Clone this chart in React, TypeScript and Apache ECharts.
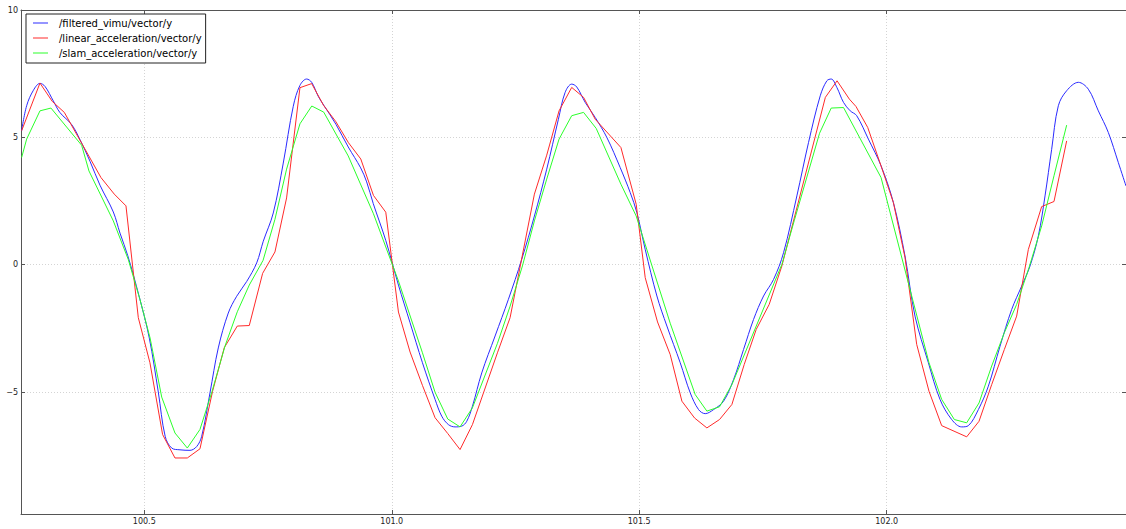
import React, { useEffect, useRef } from 'react';
import * as echarts from 'echarts';

const seriesNames = [
  '/filtered_vimu/vector/y',
  '/linear_acceleration/vector/y',
  '/slam_acceleration/vector/y',
];
const seriesColors = ['#2a2aff', '#ff2a2a', '#2aff2a'];

const xRange = [100.2509, 102.4835];
const yRange = [-9.79, 10];

// time (s), value
const filteredVimu: [number, number][] = [
  [100.2522, 5.26], [100.2623, 6.24], [100.276, 6.85], [100.2893, 7.12], [100.2994, 7.0],
  [100.3162, 6.43], [100.3297, 5.97], [100.3533, 5.5], [100.3701, 4.91], [100.3903, 4.06],
  [100.4105, 3.12], [100.4374, 2.07], [100.4509, 1.24], [100.4667, 0.35], [100.489, -1.2],
  [100.5101, -2.88], [100.5283, -5.0], [100.5422, -6.74], [100.5553, -7.2], [100.5721, -7.27],
  [100.5923, -7.29], [100.6059, -7.14], [100.616, -6.74], [100.6327, -5.04], [100.6495, -3.27],
  [100.6697, -1.9], [100.6867, -1.24], [100.7069, -0.66], [100.7271, 0.07], [100.7404, 0.92],
  [100.7606, 2.03], [100.7808, 3.99], [100.801, 6.22], [100.8145, 7.04], [100.828, 7.29],
  [100.8382, 7.16], [100.8515, 6.61], [100.863, 6.25], [100.8873, 5.51], [100.9121, 4.62],
  [100.9372, 3.8], [100.9493, 3.25], [100.9626, 2.4], [100.9879, 0.95], [101.0135, -0.8],
  [101.037, -2.28], [101.062, -3.85], [101.0875, -5.29], [101.101, -5.95], [101.1145, -6.28],
  [101.128, -6.37], [101.1414, -6.34], [101.1515, -6.15], [101.163, -5.56], [101.1818, -4.25],
  [101.2088, -2.8], [101.2357, -1.36], [101.2626, 0.21], [101.2882, 1.91], [101.3131, 3.75],
  [101.3367, 5.71], [101.3502, 6.76], [101.3636, 7.09], [101.3737, 6.98], [101.3909, 6.37],
  [101.4111, 5.78], [101.4347, 4.99], [101.4616, 3.81], [101.4818, 2.83], [101.4953, 2.04],
  [101.5121, 0.6], [101.5357, -1.23], [101.5559, -2.41], [101.5828, -3.85], [101.603, -5.03],
  [101.6199, -5.69], [101.6333, -5.85], [101.6502, -5.69], [101.6704, -5.36], [101.6906, -4.51],
  [101.7108, -3.33], [101.731, -2.15], [101.7512, -1.23], [101.7714, -0.58], [101.7916, 0.47],
  [101.8185, 2.7], [101.8421, 4.8], [101.8657, 6.63], [101.8791, 7.22], [101.8879, 7.29],
  [101.8993, 6.96], [101.9128, 6.37], [101.9263, 6.04], [101.9394, 5.85], [101.963, 4.93],
  [101.9886, 3.88], [102.0135, 2.44], [102.037, 0.34], [102.0572, -2.02], [102.0842, -3.85],
  [102.1077, -5.29], [102.1313, -6.08], [102.1515, -6.37], [102.165, -6.32], [102.1852, -5.69],
  [102.2054, -4.77], [102.229, -3.2], [102.2525, -1.76], [102.2727, -0.84], [102.2896, -0.05],
  [102.3064, 1.13], [102.3199, 2.7], [102.3333, 4.53], [102.3468, 6.24], [102.3636, 6.83],
  [102.3872, 7.16], [102.4074, 6.89], [102.4276, 6.04], [102.4478, 5.19], [102.468, 4.01],
  [102.4835, 3.09],
];

const linearAcceleration: [number, number][] = [
  [100.2522, 5.26], [100.2892, 7.13], [100.3141, 6.41], [100.3384, 5.98], [100.4125, 3.42],
  [100.4394, 2.77], [100.463, 2.31], [100.4879, -2.08], [100.5114, -3.85], [100.537, -6.67],
  [100.562, -7.59], [100.5869, -7.59], [100.6125, -7.23], [100.638, -4.97], [100.6616, -3.26],
  [100.6879, -2.41], [100.7121, -2.39], [100.7391, -0.34], [100.764, 0.5], [100.7875, 2.62],
  [100.8145, 6.95], [100.8382, 7.11], [100.862, 6.26], [100.8869, 5.62], [100.9125, 4.79],
  [100.9374, 4.15], [100.963, 2.72], [100.9879, 2.06], [101.0135, -1.86], [101.037, -3.43],
  [101.062, -4.74], [101.0875, -6.01], [101.1131, -6.63], [101.138, -7.26], [101.163, -6.28],
  [101.2135, -3.46], [101.2391, -2.08], [101.2882, 2.77], [101.3131, 4.3], [101.338, 6.04],
  [101.3636, 6.96], [101.3875, 6.57], [101.4111, 5.71], [101.463, 4.6], [101.4939, 2.37],
  [101.5121, -0.51], [101.537, -2.25], [101.5626, -3.53], [101.5862, -5.36], [101.6118, -6.02],
  [101.6367, -6.41], [101.6623, -6.08], [101.6872, -5.49], [101.7121, -3.92], [101.7364, -2.54],
  [101.7626, -1.56], [101.7882, -0.05], [101.8761, 6.57], [101.8997, 7.22], [101.9246, 6.5],
  [101.938, 6.21], [101.9616, 5.39], [101.9886, 3.88], [102.0135, 2.44], [102.037, 0.28],
  [102.0606, -3.13], [102.0855, -4.97], [102.1111, -6.32], [102.1616, -6.76], [102.1865, -6.15],
  [102.2121, -4.71], [102.2377, -3.33], [102.2626, -2.02], [102.2862, 0.6], [102.3131, 2.28],
  [102.338, 2.48], [102.3636, 4.86],
];

const slamAcceleration: [number, number][] = [
  [100.2522, 4.21], [100.2623, 4.93], [100.2892, 6.04], [100.3114, 6.15], [100.3734, 4.69],
  [100.3882, 3.68], [100.4374, 1.72], [100.4677, 0.2], [100.4913, -1.37], [100.5117, -2.88],
  [100.5352, -5.2], [100.562, -6.61], [100.5869, -7.2], [100.6125, -6.47], [100.637, -4.97],
  [100.663, -3.2], [100.6879, -1.85], [100.7121, -0.8], [100.74, 0.17], [100.764, 1.78],
  [100.7875, 3.75], [100.8145, 5.53], [100.8384, 6.23], [100.8625, 5.99], [100.912, 4.27],
  [100.963, 2.0], [101.0135, -0.64], [101.062, -3.46], [101.0875, -5.01], [101.1131, -6.06],
  [101.138, -6.37], [101.163, -5.62], [101.2135, -3.09], [101.2391, -1.63], [101.264, -0.05],
  [101.2882, 1.72], [101.3131, 3.36], [101.338, 4.93], [101.3636, 5.85], [101.3875, 5.98],
  [101.4131, 5.35], [101.463, 3.16], [101.4939, 1.91], [101.5626, -2.3], [101.6131, -5.1],
  [101.6367, -5.75], [101.6623, -5.58], [101.6872, -4.71], [101.7882, 0.01], [101.8131, 1.72],
  [101.8643, 5.16], [101.8879, 6.15], [101.9128, 6.17], [101.9886, 3.42], [102.0855, -3.85],
  [102.1111, -5.29], [102.1367, -6.08], [102.1616, -6.21], [102.1865, -5.43], [102.2121, -3.98],
  [102.2377, -2.67], [102.2626, -1.56], [102.2875, -0.12], [102.3131, 1.52], [102.338, 3.49],
  [102.3636, 5.48],
];

const FONT = 'DejaVu Sans';
const SPINE = '#555555';

function yFormat(v: number): string {
  return v < 0 ? '\u2212' + Math.abs(v) : String(v);
}

export default function App() {
  const ref = useRef<HTMLDivElement>(null);
  useEffect(() => {
    document.body.style.margin = '0';
    const chart = echarts.init(ref.current!, null, { renderer: 'svg' });
    const xCommon = {
      type: 'value',
      min: xRange[0],
      max: xRange[1],
      splitNumber: 4,
      minInterval: 0.5,
      maxInterval: 0.5,
      axisLine: { show: true, onZero: false, lineStyle: { color: SPINE, width: 1 } },
      axisTick: { show: true, inside: true, length: 4, lineStyle: { color: SPINE, width: 1 } },
    };
    const yCommon = {
      type: 'value',
      min: yRange[0],
      max: yRange[1],
      splitNumber: 4,
      minInterval: 5,
      maxInterval: 5,
      axisLine: { show: true, onZero: false, lineStyle: { color: SPINE, width: 1 } },
      axisTick: { show: true, inside: true, length: 4, lineStyle: { color: SPINE, width: 1 } },
    };
    const grid = { color: '#d4d4d4', type: [1, 2], width: 1 };
    const data = [filteredVimu, linearAcceleration, slamAcceleration];
    chart.setOption({
      animation: false,
      backgroundColor: '#ffffff',
      grid: { left: 21, right: 0, top: 10, bottom: 15, containLabel: false },
      legend: {
        data: seriesNames,
        left: 26,
        top: 14,
        orient: 'vertical',
        icon: 'rect',
        itemWidth: 15,
        itemHeight: 1,
        itemGap: 3,
        padding: [3, 4, 4, 7],
        backgroundColor: '#ffffff',
        borderColor: '#222222',
        borderWidth: 1,
        borderRadius: 0,
        selectedMode: false,
        textStyle: { fontFamily: FONT, fontSize: 10, color: '#000000', lineHeight: 12, padding: [0, 0, 0, 6] },
      },
      xAxis: [
        {
          ...xCommon,
          position: 'bottom',
          axisLabel: {
            show: true,
            margin: 3,
            fontFamily: FONT,
            fontSize: 8,
            color: '#222222',
            showMinLabel: false,
            showMaxLabel: false,
            formatter: (v: number) => v.toFixed(1),
          },
          splitLine: { show: true, lineStyle: grid },
        },
        {
          ...xCommon,
          position: 'top',
          axisLabel: { show: false },
          splitLine: { show: false },
        },
      ],
      yAxis: [
        {
          ...yCommon,
          position: 'left',
          axisLabel: {
            show: true,
            margin: 3,
            fontFamily: FONT,
            fontSize: 8,
            color: '#222222',
            showMinLabel: false,
            formatter: yFormat,
          },
          splitLine: { show: true, lineStyle: grid },
        },
        {
          ...yCommon,
          position: 'right',
          axisLabel: { show: false },
          splitLine: { show: false },
        },
      ],
      series: seriesNames.map((name, i) => ({
        name,
        type: 'line',
        xAxisIndex: 0,
        yAxisIndex: 0,
        data: data[i],
        symbol: 'none',
        showSymbol: false,
        smooth: i === 0 ? 0.35 : false,
        lineStyle: { width: 1, color: seriesColors[i] },
        itemStyle: { color: seriesColors[i] },
        z: 2 + i,
      })),
    });
    return () => chart.dispose();
  }, []);
  return <div ref={ref} style={{ position: 'absolute', left: 0, top: 0, width: 1126, height: 529 }} />;
}
